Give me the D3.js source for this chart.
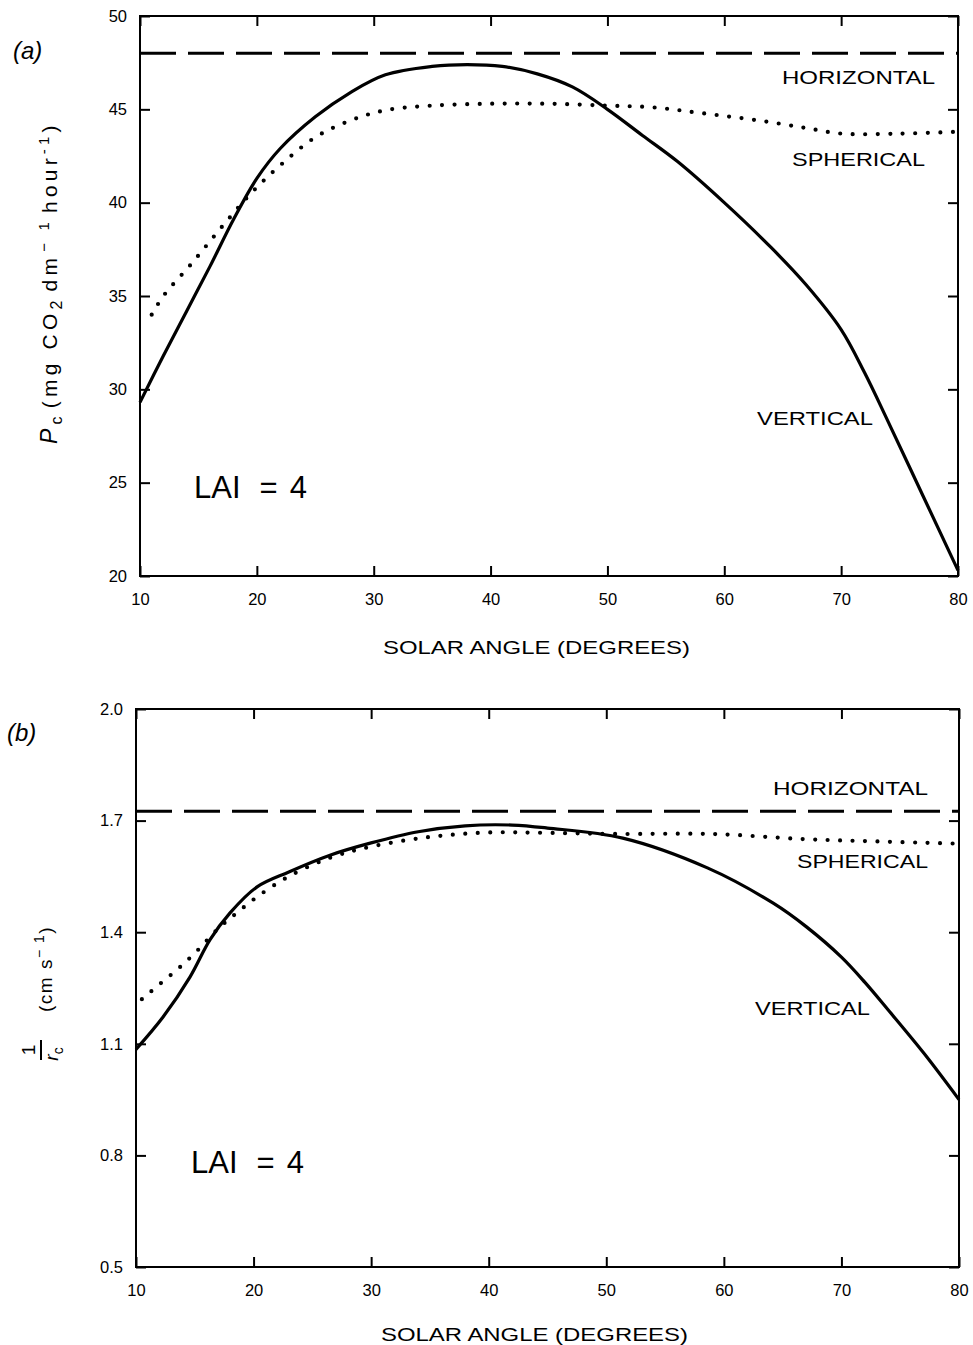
<!DOCTYPE html>
<html>
<head>
<meta charset="utf-8">
<script src="https://cdn.jsdelivr.net/npm/d3@7"></script>
<style>
  html, body { margin: 0; padding: 0; background: #fff; }
  svg text { font-family: "Liberation Sans", Arial, sans-serif; fill: #000; }
</style>
</head>
<body>
<svg id="fig" width="973" height="1345"></svg>
<script>
// Canopy photosynthesis (a) and canopy conductance (b) versus solar angle, LAI = 4

const angleTicks = [10, 20, 30, 40, 50, 60, 70, 80];
const pcTicks = [20, 25, 30, 35, 40, 45, 50];
const gcTicks = [0.5, 0.8, 1.1, 1.4, 1.7, 2.0];

// (a) Pc, mg CO2 dm^-1 hour^-1
const pcHorizontal = [[10, 48.0], [80, 48.0]];
const pcSpherical = [
  [11, 34.0], [12, 35.0], [14.5, 36.8], [17, 38.7], [19.5, 40.5], [22, 42.0],
  [25, 43.5], [28, 44.4], [31, 44.95], [35, 45.2], [40, 45.3], [45, 45.3],
  [50, 45.2], [54, 45.1], [58, 44.8], [63, 44.4], [67, 44.0], [70, 43.7],
  [75, 43.7], [80, 43.8]
];
const pcVertical = [
  [10, 29.3], [12, 31.8], [14, 34.2], [16, 36.6], [18, 39.1], [20, 41.3],
  [22, 42.9], [25, 44.6], [28, 45.9], [31, 46.85], [35, 47.3], [38, 47.4],
  [41, 47.3], [44, 46.9], [47, 46.2], [50, 45.0], [53, 43.6], [56, 42.2],
  [60, 40.0], [64, 37.6], [67, 35.6], [70, 33.2], [72, 30.9], [74, 28.3],
  [77, 24.3], [80, 20.3]
];

// (b) 1/rc, cm s^-1
const gcHorizontal = [[10, 1.725], [80, 1.725]];
const gcSpherical = [
  [10.5, 1.22], [12, 1.26], [13.7, 1.305], [15.2, 1.35], [17, 1.41],
  [18.5, 1.45], [20.3, 1.495], [23, 1.55], [26.5, 1.60], [30, 1.63],
  [35, 1.656], [40, 1.668], [45, 1.667], [51, 1.664], [59, 1.664],
  [67, 1.65], [73, 1.644], [80, 1.638]
];
const gcVertical = [
  [10, 1.085], [12.3, 1.172], [14.6, 1.28], [16.3, 1.38], [18, 1.452],
  [20.3, 1.522], [23, 1.562], [26.5, 1.607], [30, 1.64], [34, 1.67],
  [38, 1.686], [42, 1.688], [45, 1.68], [51.4, 1.653], [58.6, 1.573],
  [64.2, 1.478], [67, 1.415], [70, 1.333], [72, 1.265], [74, 1.19],
  [77, 1.075], [80, 0.95]
];

const svg = d3.select("#fig");

function panel(cfg) {
  const x = d3.scaleLinear().domain([10, 80]).range([cfg.left, cfg.right]);
  const y = d3.scaleLinear().domain(cfg.yDomain).range([cfg.bottom, cfg.top]);
  const g = svg.append("g");

  const tick = 10;
  const styleAxis = sel => {
    sel.select(".domain").remove();
    sel.selectAll(".tick line").attr("stroke", "#000").attr("stroke-width", 2);
    sel.selectAll(".tick text").attr("font-size", 16.5).attr("fill", "#000")
      .attr("font-family", "Liberation Sans, Arial, sans-serif");
  };

  g.append("g").attr("transform", `translate(0,${cfg.bottom})`)
    .call(d3.axisBottom(x).tickValues(angleTicks).tickSize(-tick).tickPadding(17).tickFormat(d3.format("d")))
    .call(styleAxis);
  g.append("g").attr("transform", `translate(0,${cfg.top})`)
    .call(d3.axisTop(x).tickValues(angleTicks).tickSize(-tick).tickFormat(""))
    .call(styleAxis);
  g.append("g").attr("transform", `translate(${cfg.left},0)`)
    .call(d3.axisLeft(y).tickValues(cfg.yTicks).tickSize(-tick).tickPadding(13).tickFormat(cfg.yFormat))
    .call(styleAxis);
  g.append("g").attr("transform", `translate(${cfg.right},0)`)
    .call(d3.axisRight(y).tickValues(cfg.yTicks).tickSize(-tick).tickFormat(""))
    .call(styleAxis);

  // frame
  g.append("rect")
    .attr("x", cfg.left).attr("y", cfg.top)
    .attr("width", cfg.right - cfg.left).attr("height", cfg.bottom - cfg.top)
    .attr("fill", "none").attr("stroke", "#000").attr("stroke-width", 2);

  const line = d3.line().x(d => x(d[0])).y(d => y(d[1])).curve(d3.curveCatmullRom.alpha(0.5));

  g.append("path").datum(cfg.horizontal).attr("d", line)
    .attr("fill", "none").attr("stroke", "#000").attr("stroke-width", 3)
    .attr("stroke-dasharray", "36,12");
  g.append("path").datum(cfg.spherical).attr("d", line)
    .attr("fill", "none").attr("stroke", "#000").attr("stroke-width", 4.2)
    .attr("stroke-linecap", "round").attr("stroke-dasharray", "0,12.5");
  g.append("path").datum(cfg.vertical).attr("d", line)
    .attr("fill", "none").attr("stroke", "#000").attr("stroke-width", 3.2)
    .attr("stroke-linejoin", "round");

  // curve names
  cfg.labels.forEach(l => {
    g.append("text").attr("x", l.x).attr("y", l.y)
      .attr("font-size", 19).attr("textLength", l.w).attr("lengthAdjust", "spacingAndGlyphs")
      .text(l.t);
  });

  // x axis title
  g.append("text").attr("x", cfg.titleX).attr("y", cfg.titleY)
    .attr("font-size", 18).attr("textLength", 307).attr("lengthAdjust", "spacingAndGlyphs")
    .text("SOLAR ANGLE (DEGREES)");

  // LAI note
  const lai = g.append("text").attr("x", cfg.laiX).attr("y", cfg.laiY).attr("font-size", 31);
  lai.append("tspan").text("LAI");
  lai.append("tspan").attr("dx", 19).text("=");
  lai.append("tspan").attr("dx", 12).text("4");

  // panel letter
  g.append("text").attr("x", cfg.letterX).attr("y", cfg.letterY)
    .attr("font-size", 24).attr("font-style", "italic")
    .text(cfg.letter);

  return g;
}

panel({
  left: 140, right: 958, top: 16, bottom: 576,
  yDomain: [20, 50], yTicks: pcTicks, yFormat: d3.format("d"),
  horizontal: pcHorizontal, spherical: pcSpherical, vertical: pcVertical,
  labels: [
    { t: "HORIZONTAL", x: 782, y: 84, w: 153 },
    { t: "SPHERICAL", x: 792, y: 166, w: 133 },
    { t: "VERTICAL", x: 757, y: 425, w: 116 }
  ],
  titleX: 383, titleY: 654,
  laiX: 194, laiY: 498,
  letter: "(a)", letterX: 13, letterY: 59
});

panel({
  left: 136, right: 959, top: 709, bottom: 1267,
  yDomain: [0.5, 2.0], yTicks: gcTicks, yFormat: d3.format(".1f"),
  horizontal: gcHorizontal, spherical: gcSpherical, vertical: gcVertical,
  labels: [
    { t: "HORIZONTAL", x: 773, y: 795, w: 155 },
    { t: "SPHERICAL", x: 797, y: 868, w: 131 },
    { t: "VERTICAL", x: 755, y: 1015, w: 115 }
  ],
  titleX: 381, titleY: 1341,
  laiX: 191, laiY: 1173,
  letter: "(b)", letterX: 7, letterY: 741
});

// y axis title (a): Pc (mg CO2 dm-1 hour-1), reading upward
const ta = svg.append("text")
  .attr("transform", "translate(57,444) rotate(-90)")
  .attr("font-size", 21).attr("letter-spacing", 4.2);
ta.append("tspan").attr("font-style", "italic").attr("font-size", 23).text("P");
ta.append("tspan").attr("dy", 5).attr("font-size", 16).text("c");
ta.append("tspan").attr("dy", -5).attr("dx", 4).text("(mg CO");
ta.append("tspan").attr("dy", 5).attr("font-size", 16).text("2");
ta.append("tspan").attr("dy", -5).attr("dx", 5).text("dm");
ta.append("tspan").attr("dy", -8).attr("dx", 2).attr("font-size", 15).text("\u2212 1");
ta.append("tspan").attr("dy", 8).attr("dx", 5).text("hour");
ta.append("tspan").attr("dy", -8).attr("font-size", 15).text("-1");
ta.append("tspan").attr("dy", 8).text(")");

// y axis title (b): 1/rc (cm s-1), reading upward
const tb = svg.append("g").attr("transform", "translate(44,1050) rotate(-90)");
tb.append("text").attr("x", 0).attr("y", -9).attr("text-anchor", "middle")
  .attr("font-size", 19).text("1");
tb.append("line").attr("x1", -10).attr("x2", 10).attr("y1", -3).attr("y2", -3)
  .attr("stroke", "#000").attr("stroke-width", 2);
const rc = tb.append("text").attr("x", -4).attr("y", 14).attr("text-anchor", "middle")
  .attr("font-size", 19);
rc.append("tspan").attr("font-style", "italic").text("r");
rc.append("tspan").attr("dy", 5).attr("font-size", 14).text("c");
const unit = tb.append("text").attr("x", 38).attr("y", 8).attr("font-size", 19).attr("letter-spacing", 1.5);
unit.append("tspan").text("(cm s");
unit.append("tspan").attr("dy", -8).attr("font-size", 14).text("\u2212 1");
unit.append("tspan").attr("dy", 8).text(")");
</script>
</body>
</html>
